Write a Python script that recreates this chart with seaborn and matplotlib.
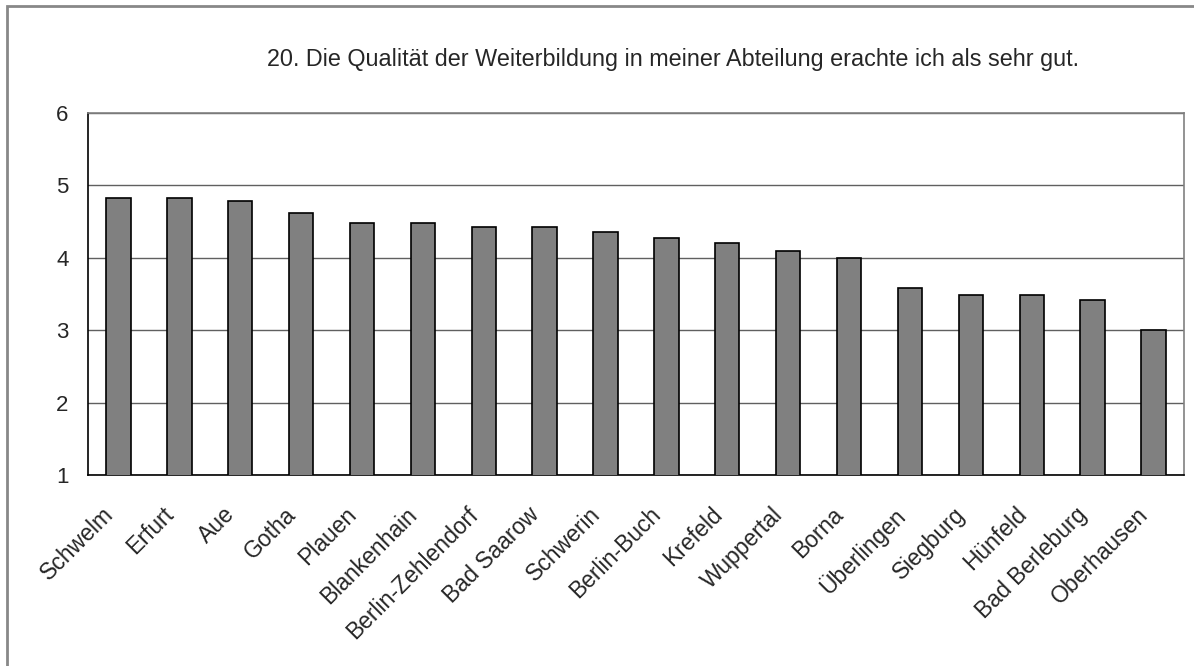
import matplotlib
matplotlib.use("Agg")
import matplotlib.pyplot as plt
import matplotlib.transforms as mtransforms
import numpy as np
import pandas as pd
import seaborn as sns
from matplotlib.patches import Rectangle

# Data
kliniken = [
    "Schwelm", "Erfurt", "Aue", "Gotha", "Plauen", "Blankenhain",
    "Berlin-Zehlendorf", "Bad Saarow", "Schwerin", "Berlin-Buch", "Krefeld",
    "Wuppertal", "Borna", "Überlingen", "Siegburg", "Hünfeld",
    "Bad Berleburg", "Oberhausen",
]
mittelwerte = [
    4.83, 4.83, 4.79, 4.62, 4.48, 4.48, 4.43, 4.43, 4.36, 4.27, 4.20,
    4.10, 4.00, 3.58, 3.49, 3.49, 3.42, 3.00,
]
y_ticks = [1, 2, 3, 4, 5, 6]
titel = "20. Die Qualität der Weiterbildung in meiner Abteilung erachte ich als sehr gut."

df = pd.DataFrame({"klinik": kliniken, "wert": mittelwerte})

sns.set_style("white")
plt.rcParams["font.family"] = ["Liberation Sans", "DejaVu Sans"]

fig = plt.figure(figsize=(11.94, 6.66), dpi=100)
ax = fig.add_axes([0.0737, 0.2868, 0.9179, 0.5435])

sns.barplot(
    data=df, x="klinik", y="wert", color="#808080", saturation=1,
    edgecolor="black", linewidth=1.2, width=0.4, ax=ax, zorder=3,
)

ax.set_ylim(1, 6)
ax.set_xlim(-0.5, len(kliniken) - 0.5)
ax.set_yticks(y_ticks)
ax.yaxis.grid(True, color="#606060", linewidth=1, zorder=0)
ax.set_axisbelow(True)

# ticks between categories, labels under each bar
ax.set_xticks(np.arange(len(kliniken) + 1) - 0.5, minor=True)
ax.tick_params(axis="x", which="minor", length=7, width=1, color="black", direction="out")
ax.tick_params(axis="x", which="major", length=0, pad=20)
ax.tick_params(axis="y", length=7, width=1, color="black", direction="out", labelsize=16, pad=7)
ax.set_xticks(range(len(kliniken)))
ax.set_xticklabels(kliniken, rotation=45, ha="right", rotation_mode="anchor", fontsize=16.5)
shift = mtransforms.ScaledTranslation(-0.17, 0, fig.dpi_scale_trans)
for lbl in ax.get_xticklabels():
    lbl.set_transform(lbl.get_transform() + shift)
ax.set_xlabel("")
ax.set_ylabel("")

for side in ["top", "right"]:
    ax.spines[side].set_visible(True)
    ax.spines[side].set_color("#808080")
    ax.spines[side].set_linewidth(1.2)
for side in ["left", "bottom"]:
    ax.spines[side].set_color("black")
    ax.spines[side].set_linewidth(1.2)

fig.text(0.564, 0.91, titel, ha="center", va="center", fontsize=16.8)

# outer chart frame
fig.patches.append(Rectangle((7 / 1194, -0.1), 1.2, 1 - 6 / 666 + 0.1,
                             transform=fig.transFigure, fill=False,
                             edgecolor="#888888", linewidth=2))

fig.savefig("out.png", dpi=100)
